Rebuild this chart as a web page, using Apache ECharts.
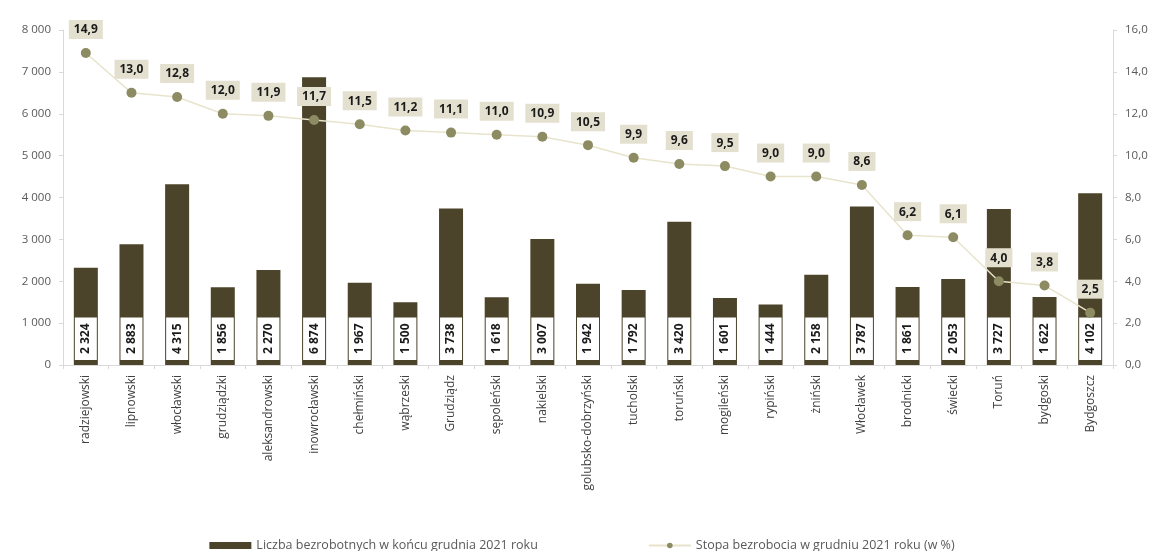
<!DOCTYPE html>
<html><head><meta charset="utf-8">
<script src="https://cdn.jsdelivr.net/npm/echarts@6/dist/echarts.min.js"></script>
<style>html,body{margin:0;padding:0;background:#fff}#c{width:1164px;height:551px}</style>
</head><body><div id="c"></div>
<script>
const categories = ['radziejowski','lipnowski','włocławski','grudziądzki','aleksandrowski','inowrocławski','chełmiński','wąbrzeski','Grudziądz','sępoleński','nakielski','golubsko-dobrzyński','tucholski','toruński','mogileński','rypiński','żniński','Włocławek','brodnicki','świecki','Toruń','bydgoski','Bydgoszcz'];
const unemployed = [2324,2883,4315,1856,2270,6874,1967,1500,3738,1618,3007,1942,1792,3420,1601,1444,2158,3787,1861,2053,3727,1622,4102];
const rate = [14.9,13.0,12.8,12.0,11.9,11.7,11.5,11.2,11.1,11.0,10.9,10.5,9.9,9.6,9.5,9.0,9.0,8.6,6.2,6.1,4.0,3.8,2.5];
const seriesNames = ['Liczba bezrobotnych w końcu grudnia 2021 roku','Stopa bezrobocia w grudniu 2021 roku (w %)'];

const fmtThousands = v => String(v).replace(/\B(?=(\d{3})+(?!\d))/g, ' ');
const fmtDec = v => v.toFixed(1).replace('.', ',');
const font = 'Open Sans, Noto Sans, sans-serif';

const chart = echarts.init(document.getElementById('c'));
chart.setOption({
  animation:false,
  textStyle:{fontFamily:font},
  grid:{left:63,right:51,top:30,bottom:186},
  legend:{
    bottom:-6, left:'center', itemGap:110,
    textStyle:{color:'#595959',fontSize:12.5,fontFamily:font},
    data:[{name:seriesNames[0],icon:'rect',itemStyle:{color:'#4b432a'}},{name:seriesNames[1]}],
    itemWidth:42,itemHeight:7
  },
  xAxis:{
    type:'category', data:categories,
    axisLine:{lineStyle:{color:'#d9d9d9'}},
    axisTick:{show:true,lineStyle:{color:'#d9d9d9'},length:4},
    axisLabel:{rotate:90,color:'#404040',fontSize:12,margin:10,fontFamily:font,interval:0}
  },
  yAxis:[
    {type:'value',min:0,max:8000,interval:1000,
     axisLine:{show:true,lineStyle:{color:'#d9d9d9'}},
     axisTick:{show:true,lineStyle:{color:'#d9d9d9'},length:4},
     splitLine:{show:false},
     axisLabel:{color:'#595959',fontSize:11.5,formatter:fmtThousands,margin:12}},
    {type:'value',min:0,max:16,interval:2,
     axisLine:{show:true,lineStyle:{color:'#d9d9d9'}},
     axisTick:{show:true,lineStyle:{color:'#d9d9d9'},length:4},
     splitLine:{show:false},
     axisLabel:{color:'#595959',fontSize:11.5,formatter:v=>fmtDec(v),margin:12}}
  ],
  series:[
    {name:seriesNames[0],type:'bar',data:unemployed,barWidth:24,
     itemStyle:{color:'#4b432a'},
     label:{show:true,position:'insideBottom',rotate:90,align:'left',verticalAlign:'middle',
       distance:5,backgroundColor:'#ffffff',padding:[5,6,5,6],lineHeight:12,
       color:'#1a1a1a',fontWeight:'bold',fontSize:12,fontFamily:font,
       formatter:p=>fmtThousands(p.value)}},
    {name:seriesNames[1],type:'line',yAxisIndex:1,data:rate,
     symbol:'circle',symbolSize:10,
     lineStyle:{color:'#e8e4cc',width:1.5},
     itemStyle:{color:'#8c8b62'},
     label:{show:true,position:'top',distance:9,backgroundColor:'#e4e0cf',padding:[4,5,3,5],
       color:'#1a1a1a',fontWeight:'bold',fontSize:12,fontFamily:font,
       formatter:p=>fmtDec(p.value)},
     z:5}
  ]
});
</script></body></html>
